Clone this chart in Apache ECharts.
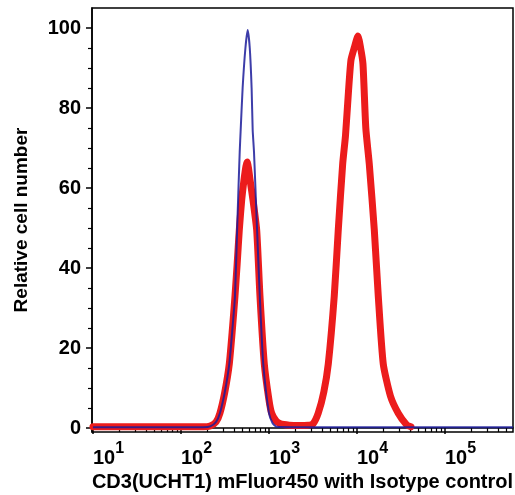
<!DOCTYPE html>
<html>
<head>
<meta charset="utf-8">
<script src="https://cdn.jsdelivr.net/npm/echarts@6/dist/echarts.min.js"></script>
<style>html,body{margin:0;padding:0;background:#fff}#c{width:515px;height:495px}</style>
</head>
<body>
<div id="c"></div>
<script>
// Tick values (real units)
const xMajorTicks = [10, 100, 1000, 10000, 100000];
const xMinorTicks = [20,30,40,50,60,70,80,90,200,300,400,500,600,700,800,900,2000,3000,4000,5000,6000,7000,8000,9000,20000,30000,40000,50000,60000,70000,80000,90000,200000,300000,400000,500000];
const yMajorTicks = [0, 20, 40, 60, 80, 100];
const yMinorTicks = [5,10,15,25,30,35,45,50,55,65,70,75,85,90,95];

// Isotype control (blue)
const isoX = [10, 100, 180, 215, 250, 277, 315, 354, 385, 411, 438, 465, 477, 502, 540, 573, 605, 635, 653, 676, 725, 790, 861, 1000, 1100, 1223, 2000, 10000, 100000, 593000];
const isoY = [0.2, 0.2, 0.2, 0.4, 1.5, 3.7, 9, 16, 25, 33, 52, 69, 74.5, 85, 95, 99.5, 95, 85, 74.5, 69, 52, 32, 16, 3.7, 1.2, 0.3, 0.2, 0.2, 0.2, 0.2];

// CD3(UCHT1) mFluor450 (red)
const cd3X = [10, 100, 180, 215, 250, 277, 315, 354, 385, 411, 435, 460, 490, 520, 548, 566, 585, 610, 658, 725, 790, 885, 1000, 1073, 1200, 1334, 1700, 2200, 2800, 3162, 3630, 4200, 4720, 5520, 6130, 6880, 7400, 8000, 8550, 9300, 10260, 11000, 11700, 12600, 13800, 15740, 17460, 19900, 24000, 29450, 36700, 41000];
const cd3Y = [0.3, 0.3, 0.3, 0.5, 1.5, 3.7, 9, 16, 25, 33, 41, 49.5, 57, 62, 65.5, 66.5, 65, 62, 57, 49.5, 33, 16, 7, 3.7, 1.8, 1.1, 0.7, 0.6, 0.7, 1, 3.7, 9, 16, 33, 49.5, 66, 73, 84, 92, 95, 98, 95, 91, 75, 66, 49.5, 33, 16, 8, 3.7, 0.8, 0.3];

const X_MIN = 9.75, X_MAX = 593000;
const lg = v => Math.log10(v);
const font = 'Liberation Sans, Arial, Helvetica, sans-serif';

const chart = echarts.init(document.getElementById('c'), null, {renderer: 'canvas'});
const axisLineStyle = {color: '#000', width: 1.5};

chart.setOption({
  animation: false,
  backgroundColor: '#fff',
  grid: {left: 92, right: 2, top: 8, bottom: 63, show: true, borderColor: '#000', borderWidth: 1.5, backgroundColor: 'transparent', containLabel: false, outerBoundsMode: 'none'},
  xAxis: [
    {
      type: 'value', min: lg(X_MIN), max: lg(X_MAX), position: 'bottom',
      name: 'CD3(UCHT1) mFluor450 with Isotype control',
      nameLocation: 'middle', nameGap: 37,
      nameTextStyle: {fontFamily: font, fontWeight: 'bold', fontSize: 20, color: '#000'},
      axisLine: {show: true, lineStyle: axisLineStyle},
      axisTick: {show: true, customValues: xMajorTicks.map(lg), length: 6, lineStyle: axisLineStyle},
      axisLabel: {
        customValues: xMajorTicks.map(lg), margin: 9, align: 'left',
        formatter: v => '{b|10}{s|' + Math.round(v) + '}',
        rich: {
          b: {fontFamily: font, fontWeight: 'bold', fontSize: 20, lineHeight: 34, verticalAlign: 'middle', color: '#000'},
          s: {fontFamily: font, fontWeight: 'bold', fontSize: 16, lineHeight: 16, verticalAlign: 'top', color: '#000'}
        }
      },
      splitLine: {show: false}
    },
    {
      type: 'value', min: lg(X_MIN), max: lg(X_MAX), position: 'bottom', offset: 0,
      axisLine: {show: false},
      axisTick: {show: true, customValues: xMinorTicks.map(lg), length: 4, lineStyle: {color: '#000', width: 1.2}},
      axisLabel: {show: false},
      splitLine: {show: false}
    }
  ],
  yAxis: [
    {
      type: 'value', min: -1, max: 105, position: 'left',
      name: 'Relative cell number', nameLocation: 'middle', nameGap: 61,
      nameTextStyle: {fontFamily: font, fontWeight: 'bold', fontSize: 19, color: '#000'},
      axisLine: {show: true, lineStyle: axisLineStyle},
      axisTick: {show: true, customValues: yMajorTicks, length: 6, lineStyle: axisLineStyle},
      axisLabel: {customValues: yMajorTicks, margin: 11, fontFamily: font, fontWeight: 'bold', fontSize: 20, color: '#000'},
      splitLine: {show: false}
    },
    {
      type: 'value', min: -1, max: 105, position: 'left', offset: 0,
      axisLine: {show: false},
      axisTick: {show: true, customValues: yMinorTicks, length: 4, lineStyle: {color: '#000', width: 1.2}},
      axisLabel: {show: false},
      splitLine: {show: false}
    }
  ],
  series: [
    {
      name: 'CD3(UCHT1) mFluor450', type: 'line', xAxisIndex: 0, yAxisIndex: 0,
      data: cd3X.map((x, i) => [lg(x), cd3Y[i]]),
      showSymbol: false, symbol: 'none', smooth: 0.2, z: 2,
      lineStyle: {color: '#ec1c1c', width: 7, cap: 'round', join: 'round'}
    },
    {
      name: 'Isotype control', type: 'line', xAxisIndex: 0, yAxisIndex: 0,
      data: isoX.map((x, i) => [lg(x), isoY[i]]),
      showSymbol: false, symbol: 'none', smooth: 0.2, z: 3,
      lineStyle: {color: '#1b1b9a', width: 2, opacity: 0.85}
    }
  ]
});
</script>
</body>
</html>
